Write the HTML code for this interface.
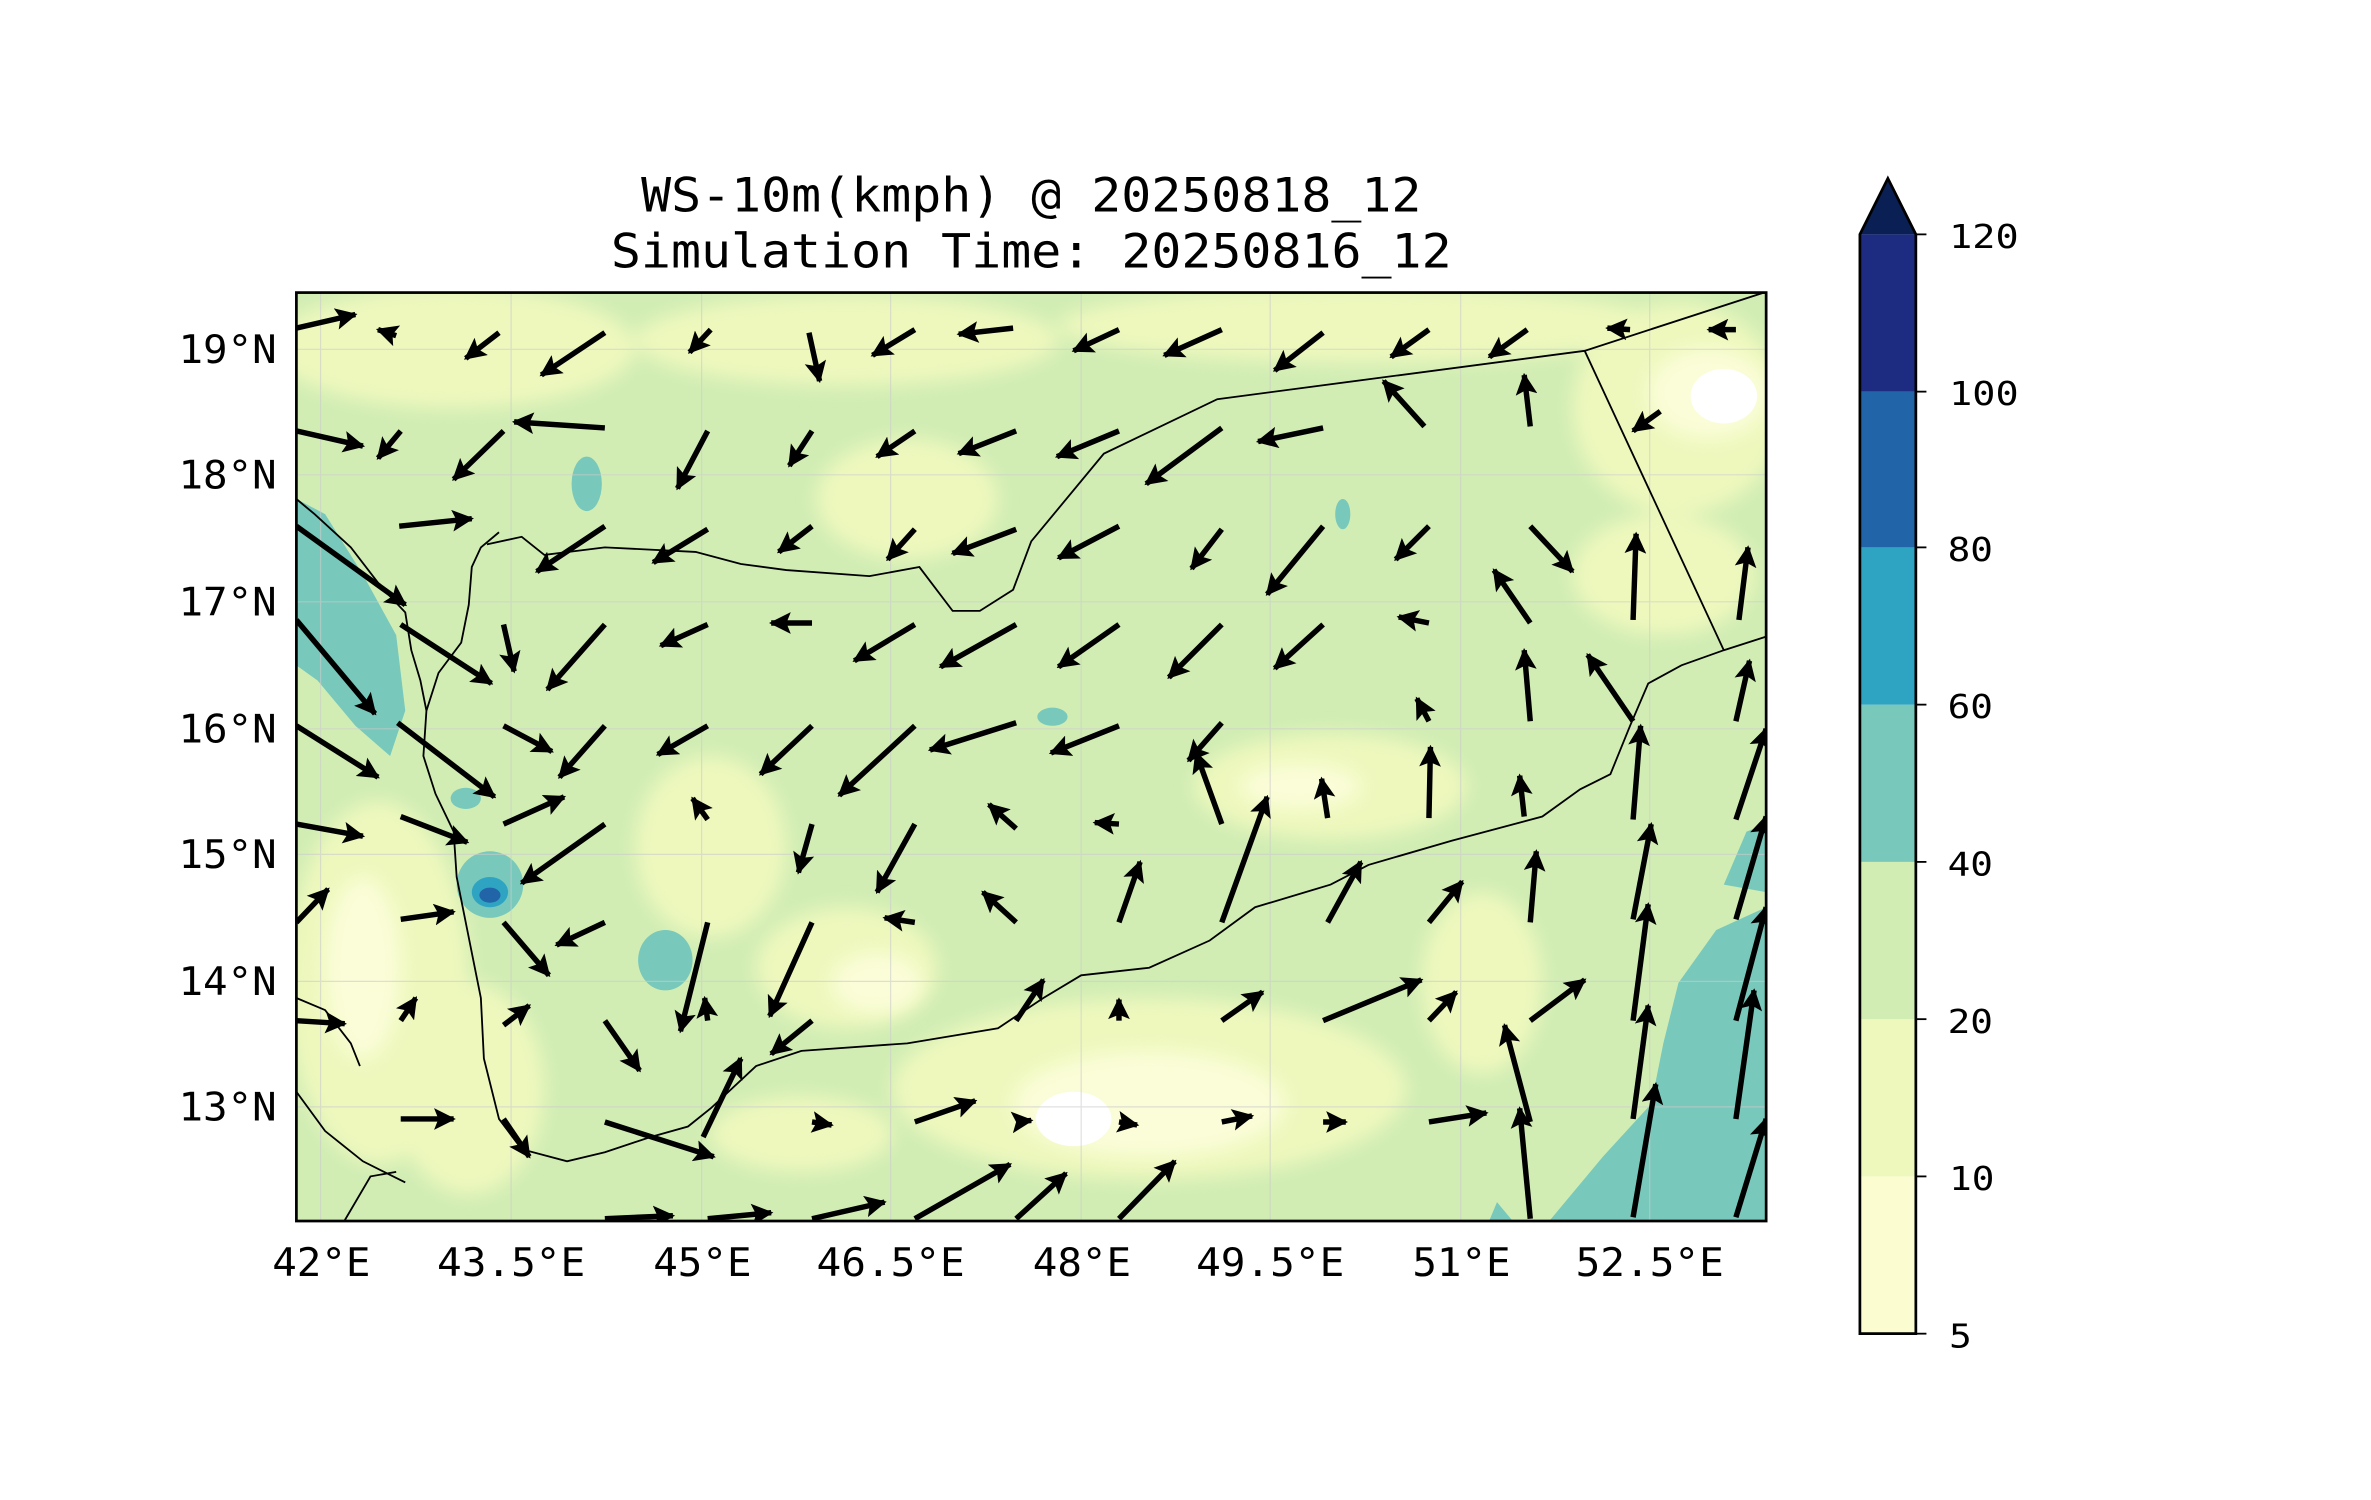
<!DOCTYPE html>
<html><head><meta charset="utf-8"><style>
html,body{margin:0;padding:0;background:#fff;}
svg{display:block;}
text{font-family:"DejaVu Sans Mono","Liberation Mono",monospace;fill:#000;}
</style></head><body>
<svg width="2371" height="1500" viewBox="0 0 1568 992" xmlns="http://www.w3.org/2000/svg">
<defs>
<clipPath id="c"><rect x="196" y="193" width="972" height="614"/></clipPath>
<filter id="b" x="-20%" y="-20%" width="140%" height="140%"><feGaussianBlur stdDeviation="6"/></filter>
<marker id="h" viewBox="0 0 10 10" refX="9" refY="5" markerWidth="4" markerHeight="4" orient="auto" markerUnits="strokeWidth"><path d="M0,0 L10,5 L0,10 L2,5 z" fill="#000"/></marker>
</defs>
<text x="424" y="140" font-size="31" textLength="516" lengthAdjust="spacingAndGlyphs">WS-10m(kmph) @ 20250818_12</text>
<text x="404" y="177" font-size="31" textLength="556" lengthAdjust="spacingAndGlyphs">Simulation Time: 20250816_12</text>
<g clip-path="url(#c)">
<rect x="196" y="193" width="972" height="614" fill="#d1edb4"/>
<g filter="url(#b)" fill="#eef8bd">
<ellipse cx="300" cy="230" rx="120" ry="40"/>
<ellipse cx="560" cy="225" rx="140" ry="30"/>
<ellipse cx="900" cy="215" rx="200" ry="25"/>
<ellipse cx="1110" cy="270" rx="70" ry="70"/>
<ellipse cx="1100" cy="380" rx="60" ry="40"/>
<ellipse cx="250" cy="650" rx="60" ry="120"/>
<ellipse cx="310" cy="720" rx="50" ry="70"/>
<ellipse cx="470" cy="560" rx="50" ry="60"/>
<ellipse cx="560" cy="640" rx="60" ry="40"/>
<ellipse cx="760" cy="720" rx="170" ry="60"/>
<ellipse cx="880" cy="520" rx="90" ry="35"/>
<ellipse cx="600" cy="330" rx="60" ry="40"/>
<ellipse cx="530" cy="750" rx="60" ry="25"/>
<ellipse cx="980" cy="650" rx="40" ry="60"/>
</g>
<g filter="url(#b)" fill="#fbfdd8">
<ellipse cx="760" cy="730" rx="90" ry="35"/>
<ellipse cx="1130" cy="260" rx="40" ry="30"/>
<ellipse cx="240" cy="640" rx="25" ry="60"/>
<ellipse cx="580" cy="650" rx="30" ry="20"/>
<ellipse cx="860" cy="520" rx="40" ry="15"/>
</g>
<ellipse cx="710" cy="740" rx="25" ry="18" fill="#fff"/>
<ellipse cx="1140" cy="262" rx="22" ry="18" fill="#fff"/>
<path d="M196,330 L215,340 L240,380 L262,420 L268,470 L258,500 L235,480 L210,450 L196,440 Z" fill="#78c8bb"/>
<path d="M1025,807 L1060,765 L1092,730 L1100,690 L1110,650 L1135,615 L1168,600 L1168,807 Z" fill="#78c8bb"/>
<path d="M1140,585 L1155,550 L1168,545 L1168,590 Z" fill="#78c8bb"/>
<path d="M985,807 L990,795 L1000,807 Z" fill="#78c8bb"/>
<ellipse cx="324" cy="585" rx="22" ry="22" fill="#78c8bb"/>
<ellipse cx="324" cy="590" rx="12" ry="10" fill="#2fa4c2"/>
<ellipse cx="324" cy="592" rx="7" ry="5" fill="#2264a8"/>
<ellipse cx="440" cy="635" rx="18" ry="20" fill="#78c8bb"/>
<ellipse cx="388" cy="320" rx="10" ry="18" fill="#78c8bb"/>
<ellipse cx="696" cy="474" rx="10" ry="6" fill="#78c8bb"/>
<ellipse cx="888" cy="340" rx="5" ry="10" fill="#78c8bb"/>
<ellipse cx="308" cy="528" rx="10" ry="7" fill="#78c8bb"/>
<g stroke="#ccc" stroke-width="0.8" opacity="0.6">
<line x1="212" y1="193" x2="212" y2="807"/><line x1="338" y1="193" x2="338" y2="807"/><line x1="464" y1="193" x2="464" y2="807"/><line x1="589" y1="193" x2="589" y2="807"/><line x1="715" y1="193" x2="715" y2="807"/><line x1="840" y1="193" x2="840" y2="807"/><line x1="966" y1="193" x2="966" y2="807"/><line x1="1091" y1="193" x2="1091" y2="807"/>
<line x1="196" y1="231" x2="1168" y2="231"/><line x1="196" y1="314" x2="1168" y2="314"/><line x1="196" y1="398" x2="1168" y2="398"/><line x1="196" y1="482" x2="1168" y2="482"/><line x1="196" y1="565" x2="1168" y2="565"/><line x1="196" y1="649" x2="1168" y2="649"/><line x1="196" y1="732" x2="1168" y2="732"/>
</g>
<g fill="none" stroke="#000" stroke-width="1.2">
<path d="M330,352 L318,362 L312,375 L310,400 L305,425 L290,445 L282,470 L280,500 L288,525 L300,550 L302,580 L310,620 L318,660 L320,700 L330,740 L345,760 L375,768 L400,762 L430,752 L455,745 L470,733 L500,705 L530,695 L600,690 L660,680 L690,660 L715,645 L760,640 L800,622 L830,600 L880,585 L905,572 L960,556 L1020,540 L1045,522 L1065,512 L1078,480 L1090,452 L1112,440 L1140,430 L1168,421"/>
<path d="M322,360 L345,355 L360,367 L400,362 L460,365 L490,373 L520,377 L575,381 L608,375 L630,404 L648,404 L670,390 L682,358 L730,300 L805,264 L1048,232 L1168,193"/>
<path d="M1048,232 L1140,430"/>
<path d="M196,330 L208,340 L232,362 L252,388 L268,405 L272,430 L278,450 L282,470"/>
<path d="M196,660 L215,668 L232,690 L238,705"/>
<path d="M196,722 L215,748 L240,768 L268,782"/>
<path d="M228,807 L245,778 L262,775"/>
</g>
<g stroke="#000" stroke-width="3.6" marker-end="url(#h)" fill="none">
<line x1="196" y1="217" x2="235" y2="208"/><line x1="262" y1="222" x2="250" y2="218"/><line x1="330" y1="220" x2="308" y2="237"/><line x1="400" y1="220" x2="358" y2="248"/><line x1="470" y1="218" x2="456" y2="233"/><line x1="535" y1="220" x2="542" y2="252"/><line x1="605" y1="218" x2="577" y2="235"/><line x1="670" y1="217" x2="634" y2="221"/><line x1="740" y1="218" x2="710" y2="232"/><line x1="808" y1="218" x2="770" y2="235"/><line x1="875" y1="220" x2="843" y2="245"/><line x1="945" y1="218" x2="920" y2="236"/><line x1="1010" y1="218" x2="985" y2="236"/><line x1="1078" y1="218" x2="1063" y2="217"/><line x1="1148" y1="218" x2="1130" y2="218"/>
<line x1="196" y1="285" x2="240" y2="295"/><line x1="265" y1="285" x2="250" y2="303"/><line x1="333" y1="285" x2="300" y2="317"/><line x1="400" y1="283" x2="340" y2="279"/><line x1="468" y1="285" x2="448" y2="323"/><line x1="537" y1="285" x2="522" y2="308"/><line x1="605" y1="285" x2="580" y2="302"/><line x1="672" y1="285" x2="634" y2="300"/><line x1="740" y1="285" x2="699" y2="302"/><line x1="808" y1="283" x2="758" y2="320"/><line x1="875" y1="283" x2="832" y2="292"/><line x1="942" y1="282" x2="915" y2="252"/><line x1="1012" y1="282" x2="1008" y2="248"/><line x1="1098" y1="272" x2="1080" y2="285"/>
<line x1="264" y1="348" x2="312" y2="343"/><line x1="400" y1="348" x2="355" y2="378"/><line x1="468" y1="350" x2="432" y2="372"/><line x1="537" y1="348" x2="515" y2="365"/><line x1="605" y1="350" x2="587" y2="370"/><line x1="672" y1="350" x2="630" y2="366"/><line x1="740" y1="348" x2="700" y2="369"/><line x1="808" y1="350" x2="788" y2="376"/><line x1="875" y1="348" x2="838" y2="393"/><line x1="945" y1="348" x2="923" y2="370"/><line x1="1012" y1="348" x2="1040" y2="378"/><line x1="1080" y1="410" x2="1082" y2="353"/><line x1="1150" y1="410" x2="1156" y2="362"/>
<line x1="196" y1="348" x2="268" y2="400"/><line x1="265" y1="413" x2="325" y2="452"/><line x1="333" y1="413" x2="340" y2="444"/><line x1="400" y1="413" x2="362" y2="456"/><line x1="468" y1="413" x2="437" y2="427"/><line x1="537" y1="412" x2="510" y2="412"/><line x1="605" y1="413" x2="565" y2="437"/><line x1="672" y1="413" x2="622" y2="441"/><line x1="740" y1="413" x2="700" y2="441"/><line x1="808" y1="413" x2="773" y2="448"/><line x1="875" y1="413" x2="843" y2="442"/><line x1="945" y1="412" x2="925" y2="408"/><line x1="1012" y1="412" x2="988" y2="377"/><line x1="1080" y1="477" x2="1050" y2="433"/><line x1="1148" y1="477" x2="1157" y2="437"/><line x1="1012" y1="477" x2="1008" y2="430"/>
<line x1="196" y1="410" x2="248" y2="472"/><line x1="263" y1="478" x2="327" y2="527"/><line x1="333" y1="480" x2="365" y2="497"/><line x1="400" y1="480" x2="370" y2="514"/><line x1="468" y1="480" x2="435" y2="499"/><line x1="537" y1="480" x2="503" y2="512"/><line x1="605" y1="480" x2="555" y2="526"/><line x1="672" y1="478" x2="615" y2="496"/><line x1="740" y1="480" x2="695" y2="498"/><line x1="808" y1="478" x2="786" y2="503"/><line x1="945" y1="477" x2="937" y2="462"/><line x1="1008" y1="540" x2="1005" y2="513"/><line x1="1080" y1="542" x2="1085" y2="480"/><line x1="1148" y1="542" x2="1168" y2="482"/>
<line x1="196" y1="480" x2="250" y2="514"/><line x1="265" y1="540" x2="309" y2="557"/><line x1="333" y1="545" x2="373" y2="527"/><line x1="400" y1="545" x2="345" y2="584"/><line x1="468" y1="542" x2="458" y2="528"/><line x1="537" y1="545" x2="528" y2="577"/><line x1="605" y1="545" x2="580" y2="590"/><line x1="672" y1="548" x2="654" y2="532"/><line x1="740" y1="545" x2="724" y2="544"/><line x1="808" y1="545" x2="791" y2="498"/><line x1="878" y1="541" x2="874" y2="515"/><line x1="945" y1="541" x2="946" y2="494"/><line x1="1080" y1="608" x2="1092" y2="545"/><line x1="1148" y1="608" x2="1168" y2="540"/>
<line x1="196" y1="545" x2="240" y2="553"/><line x1="265" y1="608" x2="300" y2="603"/><line x1="333" y1="610" x2="363" y2="645"/><line x1="400" y1="610" x2="368" y2="625"/><line x1="468" y1="610" x2="450" y2="682"/><line x1="537" y1="610" x2="509" y2="672"/><line x1="605" y1="610" x2="585" y2="607"/><line x1="672" y1="610" x2="650" y2="590"/><line x1="740" y1="610" x2="754" y2="570"/><line x1="808" y1="610" x2="838" y2="527"/><line x1="878" y1="610" x2="900" y2="570"/><line x1="945" y1="610" x2="967" y2="583"/><line x1="1012" y1="610" x2="1016" y2="563"/><line x1="1080" y1="675" x2="1090" y2="598"/><line x1="1148" y1="675" x2="1168" y2="600"/><line x1="196" y1="610" x2="217" y2="588"/>
<line x1="196" y1="675" x2="228" y2="677"/><line x1="265" y1="675" x2="275" y2="660"/><line x1="333" y1="678" x2="350" y2="665"/><line x1="400" y1="675" x2="423" y2="708"/><line x1="468" y1="675" x2="466" y2="660"/><line x1="537" y1="675" x2="510" y2="697"/><line x1="672" y1="675" x2="690" y2="648"/><line x1="740" y1="675" x2="740" y2="661"/><line x1="808" y1="675" x2="835" y2="656"/><line x1="875" y1="675" x2="940" y2="648"/><line x1="945" y1="675" x2="963" y2="656"/><line x1="1012" y1="675" x2="1048" y2="648"/><line x1="1080" y1="740" x2="1090" y2="665"/><line x1="1148" y1="740" x2="1160" y2="655"/>
<line x1="265" y1="740" x2="300" y2="740"/><line x1="333" y1="740" x2="350" y2="765"/><line x1="400" y1="742" x2="472" y2="765"/><line x1="465" y1="752" x2="490" y2="700"/><line x1="537" y1="742" x2="550" y2="744"/><line x1="605" y1="742" x2="645" y2="728"/><line x1="672" y1="742" x2="682" y2="741"/><line x1="740" y1="742" x2="752" y2="744"/><line x1="808" y1="742" x2="828" y2="738"/><line x1="875" y1="742" x2="890" y2="742"/><line x1="945" y1="742" x2="983" y2="736"/><line x1="1012" y1="742" x2="995" y2="678"/><line x1="1080" y1="805" x2="1095" y2="717"/><line x1="1148" y1="805" x2="1168" y2="740"/>
<line x1="400" y1="806" x2="445" y2="804"/><line x1="468" y1="806" x2="510" y2="802"/><line x1="537" y1="806" x2="585" y2="795"/><line x1="605" y1="806" x2="668" y2="770"/><line x1="672" y1="806" x2="705" y2="776"/><line x1="740" y1="806" x2="777" y2="768"/><line x1="1012" y1="806" x2="1005" y2="733"/>
</g>
</g>
<rect x="196" y="193.5" width="972" height="614" fill="none" stroke="#000" stroke-width="1.8"/>
<g font-size="26">
<text x="118" y="240" textLength="65" lengthAdjust="spacingAndGlyphs">19°N</text>
<text x="118" y="323" textLength="65" lengthAdjust="spacingAndGlyphs">18°N</text>
<text x="118" y="407" textLength="65" lengthAdjust="spacingAndGlyphs">17°N</text>
<text x="118" y="491" textLength="65" lengthAdjust="spacingAndGlyphs">16°N</text>
<text x="118" y="574" textLength="65" lengthAdjust="spacingAndGlyphs">15°N</text>
<text x="118" y="658" textLength="65" lengthAdjust="spacingAndGlyphs">14°N</text>
<text x="118" y="741" textLength="65" lengthAdjust="spacingAndGlyphs">13°N</text>
<text x="180" y="844" textLength="65" lengthAdjust="spacingAndGlyphs">42°E</text>
<text x="289" y="844" textLength="98" lengthAdjust="spacingAndGlyphs">43.5°E</text>
<text x="432" y="844" textLength="65" lengthAdjust="spacingAndGlyphs">45°E</text>
<text x="540" y="844" textLength="98" lengthAdjust="spacingAndGlyphs">46.5°E</text>
<text x="683" y="844" textLength="65" lengthAdjust="spacingAndGlyphs">48°E</text>
<text x="791" y="844" textLength="98" lengthAdjust="spacingAndGlyphs">49.5°E</text>
<text x="934" y="844" textLength="65" lengthAdjust="spacingAndGlyphs">51°E</text>
<text x="1042" y="844" textLength="98" lengthAdjust="spacingAndGlyphs">52.5°E</text>
</g>
<rect x="1230" y="778" width="37" height="104" fill="#fbfdd1"/>
<rect x="1230" y="674" width="37" height="104" fill="#eef8bd"/>
<rect x="1230" y="570" width="37" height="104" fill="#d1edb4"/>
<rect x="1230" y="466" width="37" height="104" fill="#78c8bb"/>
<rect x="1230" y="362" width="37" height="104" fill="#2fa4c2"/>
<rect x="1230" y="259" width="37" height="103" fill="#2264a8"/>
<rect x="1230" y="155" width="37" height="104" fill="#1d2c80"/>
<path d="M1230,155 L1248.5,118 L1267,155 Z" fill="#0a1f54"/>
<path d="M1230,882 L1230,155 L1248.5,118 L1267,155 L1267,882 Z" fill="none" stroke="#000" stroke-width="1.8"/>
<g stroke="#000" stroke-width="1.2">
<line x1="1267" y1="155" x2="1274" y2="155"/><line x1="1267" y1="259" x2="1274" y2="259"/><line x1="1267" y1="362" x2="1274" y2="362"/><line x1="1267" y1="466" x2="1274" y2="466"/><line x1="1267" y1="570" x2="1274" y2="570"/><line x1="1267" y1="674" x2="1274" y2="674"/><line x1="1267" y1="778" x2="1274" y2="778"/><line x1="1267" y1="882" x2="1274" y2="882"/>
</g>
<g font-size="22">
<text x="1289" y="164" textLength="46" lengthAdjust="spacingAndGlyphs">120</text><text x="1289" y="268" textLength="46" lengthAdjust="spacingAndGlyphs">100</text><text x="1288" y="371" textLength="30" lengthAdjust="spacingAndGlyphs">80</text><text x="1288" y="475" textLength="30" lengthAdjust="spacingAndGlyphs">60</text><text x="1288" y="579" textLength="30" lengthAdjust="spacingAndGlyphs">40</text><text x="1288" y="683" textLength="30" lengthAdjust="spacingAndGlyphs">20</text><text x="1289" y="787" textLength="30" lengthAdjust="spacingAndGlyphs">10</text><text x="1289" y="891" textLength="15" lengthAdjust="spacingAndGlyphs">5</text>
</g>
</svg>
</body></html>
